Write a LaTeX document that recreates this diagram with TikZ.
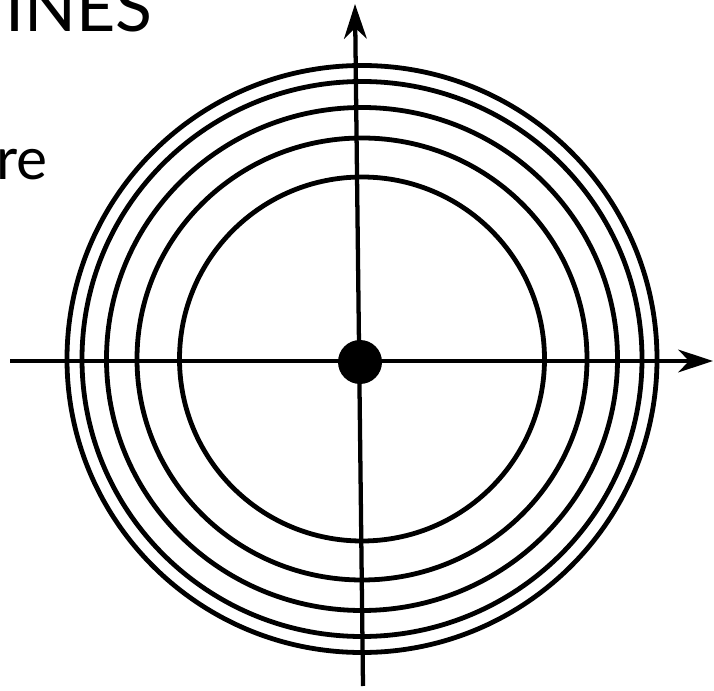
\documentclass[tikz,border=0pt]{standalone}
\usepackage{fontspec}
\setmainfont{Lato}
\usetikzlibrary{arrows.meta}
\begin{document}
\begin{tikzpicture}[x=0.75pt,y=-0.75pt,
  ring/.style={line width=3.6pt},
  axis/.style={line width=3.2pt, -{Stealth[length=26pt,width=17pt,inset=8pt]}},
  lbl/.style={inner sep=0pt, anchor=base west}]
\useasboundingbox (0,0) rectangle (714,691);
\clip (0,0) rectangle (714,691);
\node[lbl, font=\fontsize{51}{56}\selectfont] (title) at (5,32) {INES};
\node[lbl, font=\fontsize{44}{50}\selectfont] (word) at (-4,180) {re};
\coordinate (c) at (362,359);
\coordinate (l) at (10,361);
\coordinate (r) at (713,361);
\coordinate (b) at (363,686);
\coordinate (t) at (355,4);
\draw[axis] (l) -- (r);
\draw[axis] (b) -- (t);
\foreach \rx/\ry in {295/293.5, 280/277.5, 255.5/251.5, 225/221, 182.5/182}
  \draw[ring] (c) ellipse[x radius=\rx*0.75pt, y radius=\ry*0.75pt];
\node[circle, fill=black, inner sep=0pt, minimum size=33pt] (o) at (360,362) {};
\end{tikzpicture}
\end{document}
